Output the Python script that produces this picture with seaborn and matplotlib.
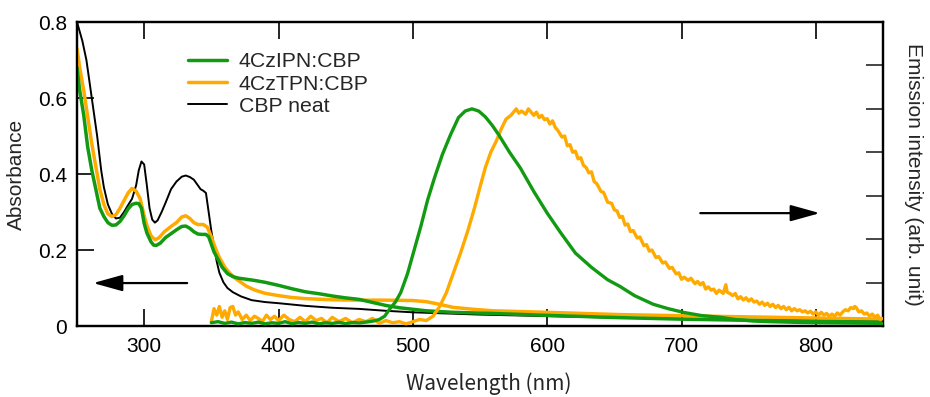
import numpy as np
import pandas as pd
import matplotlib
matplotlib.use("Agg")
import matplotlib.pyplot as plt
from matplotlib.patches import ArrowStyle
import seaborn as sns

# ---------------- data ----------------
# Absorbance (left axis)
cbp_wl = [250, 254, 257, 261, 265, 268, 270, 273, 276, 279, 282, 285, 288, 291, 294, 296, 298, 300,
          302, 304, 306, 308, 310, 313, 316, 320, 324, 328, 331, 334, 337, 340, 342, 344, 346, 348,
          350, 352, 354, 356, 359, 362, 366, 372, 380, 390, 400, 420, 440, 460, 480, 500, 550, 600,
          650, 700, 750, 800, 850]
cbp_abs = [0.80, 0.75, 0.70, 0.60, 0.50, 0.41, 0.365, 0.32, 0.295, 0.283, 0.285, 0.30, 0.318, 0.335,
           0.37, 0.41, 0.433, 0.425, 0.37, 0.31, 0.28, 0.272, 0.278, 0.30, 0.325, 0.36, 0.38, 0.393,
           0.396, 0.392, 0.385, 0.37, 0.36, 0.356, 0.35, 0.30, 0.25, 0.21, 0.17, 0.14, 0.115, 0.10,
           0.089, 0.078, 0.068, 0.063, 0.06, 0.053, 0.048, 0.045, 0.040, 0.036, 0.030, 0.026, 0.022,
           0.019, 0.016, 0.014, 0.012]

ipn_wl = [250, 252, 255, 258, 261, 264, 267, 270, 273, 276, 279, 282, 285, 288, 291, 294, 296, 298,
          300, 302, 305, 307, 309, 312, 316, 320, 324, 328, 331, 334, 337, 340, 343, 346, 348, 350,
          352, 355, 358, 362, 366, 370, 376, 382, 390, 400, 410, 420, 430, 440, 450, 460, 470, 480,
          490, 500, 510, 530, 560, 600, 654, 700, 750, 800, 850]
ipn_abs = [0.68, 0.62, 0.555, 0.47, 0.41, 0.36, 0.31, 0.288, 0.272, 0.265, 0.266, 0.275, 0.29, 0.308,
           0.32, 0.323, 0.322, 0.31, 0.27, 0.245, 0.222, 0.213, 0.212, 0.218, 0.233, 0.243, 0.253,
           0.262, 0.263, 0.257, 0.248, 0.242, 0.241, 0.241, 0.235, 0.215, 0.195, 0.175, 0.155, 0.138,
           0.13, 0.126, 0.123, 0.12, 0.115, 0.107, 0.098, 0.09, 0.085, 0.079, 0.074, 0.07, 0.062,
           0.054, 0.048, 0.044, 0.04, 0.036, 0.033, 0.028, 0.022, 0.018, 0.015, 0.012, 0.01]

tpn_wl = [250, 252, 255, 258, 261, 264, 267, 270, 273, 276, 279, 282, 285, 288, 291, 294, 297, 300,
          302, 305, 308, 311, 315, 320, 324, 328, 331, 334, 337, 340, 344, 347, 350, 353, 356, 360,
          364, 368, 372, 376, 382, 390, 400, 410, 420, 440, 460, 480, 500, 510, 520, 530, 545, 560,
          600, 654, 700, 750, 800, 850]
tpn_abs = [0.73, 0.68, 0.62, 0.55, 0.48, 0.42, 0.36, 0.32, 0.295, 0.288, 0.293, 0.31, 0.33, 0.35,
           0.362, 0.355, 0.335, 0.29, 0.265, 0.238, 0.227, 0.232, 0.248, 0.262, 0.272, 0.287, 0.29,
           0.283, 0.272, 0.267, 0.267, 0.26, 0.235, 0.205, 0.18, 0.155, 0.138, 0.125, 0.115, 0.105,
           0.095, 0.086, 0.08, 0.075, 0.072, 0.069, 0.068, 0.068, 0.067, 0.064, 0.057, 0.049, 0.044,
           0.04, 0.036, 0.03, 0.027, 0.024, 0.021, 0.018]

# Emission (right axis, normalised)
ipn_pl_wl = [350, 355, 360, 365, 370, 375, 380, 385, 390, 395, 400, 405, 410, 415, 420, 425, 430,
             435, 440, 445, 450, 455, 460, 465, 470, 475, 479, 483, 487, 491, 496, 501, 506, 511,
             516, 522, 528, 534, 539, 544, 549, 554, 559, 564, 572, 580, 590, 600, 610, 621, 633,
             645, 654, 665, 679, 690, 702, 715, 729, 740, 753, 765, 778, 790, 800, 815, 830, 850]
ipn_pl = [0.015, 0.02, 0.012, 0.018, 0.01, 0.016, 0.012, 0.018, 0.01, 0.015, 0.012, 0.02, 0.01,
          0.016, 0.012, 0.018, 0.01, 0.015, 0.012, 0.017, 0.011, 0.016, 0.014, 0.018, 0.022, 0.03,
          0.045, 0.08, 0.11, 0.154, 0.24, 0.35, 0.46, 0.58, 0.68, 0.79, 0.88, 0.96, 0.99, 1.0, 0.99,
          0.963, 0.925, 0.88, 0.80, 0.728, 0.62, 0.52, 0.43, 0.336, 0.27, 0.213, 0.183, 0.14, 0.10,
          0.08, 0.062, 0.048, 0.04, 0.03, 0.023, 0.02, 0.018, 0.016, 0.015, 0.014, 0.013, 0.012]

tpn_pl_wl = [350, 352, 354, 356, 358, 360, 362, 364, 366, 368, 370, 373, 376, 379, 382, 385, 388,
             391, 394, 397, 400, 404, 408, 412, 416, 420, 424, 428, 432, 436, 440, 445, 450, 455,
             460, 465, 470, 475, 480, 485, 490, 495, 500, 505, 510, 515, 520, 525, 530, 535.5, 541,
             546, 550, 554, 558, 562, 566, 569.4, 573, 577, 579, 581, 584, 586, 588, 590, 592, 594,
             596, 598, 600, 602, 604, 606, 608, 611, 613, 615, 617, 619, 621, 623, 625, 627, 629,
             631, 633, 635, 637, 640, 642, 645, 648, 650, 652, 654, 656, 658, 660, 662, 664, 667,
             669, 672, 674, 676, 678, 681, 683, 686, 688, 691, 693, 696, 698, 700, 702, 705, 707,
             710, 712, 714, 716, 718, 720, 722, 724, 726, 728, 731, 733, 734, 736, 738, 740, 742,
             744, 746, 748, 750, 752, 754, 756, 758, 760, 762, 764, 766, 768, 770, 772, 774, 776,
             778, 780, 782, 784, 786, 788, 790, 792, 794, 796, 798, 800, 802, 804, 806, 808, 810,
             812, 814, 816, 818, 820, 822, 824, 826, 828, 829, 830, 832, 834, 836, 838, 840, 842,
             844, 846, 848, 850]
tpn_pl = [0.02, 0.08, 0.05, 0.09, 0.04, 0.07, 0.03, 0.085, 0.09, 0.05, 0.065, 0.03, 0.05, 0.025,
          0.045, 0.035, 0.02, 0.05, 0.03, 0.045, 0.025, 0.05, 0.03, 0.02, 0.04, 0.02, 0.045, 0.025,
          0.035, 0.015, 0.04, 0.02, 0.035, 0.015, 0.03, 0.02, 0.035, 0.012, 0.025, 0.015, 0.02,
          0.01, 0.02, 0.03, 0.025, 0.045, 0.09, 0.154, 0.24, 0.336, 0.44, 0.546, 0.64, 0.73, 0.80,
          0.85, 0.91, 0.953, 0.97, 1.0, 0.98, 0.99, 0.975, 1.0, 0.985, 0.97, 0.985, 0.96, 0.97,
          0.95, 0.955, 0.93, 0.945, 0.915, 0.9, 0.87, 0.875, 0.83, 0.835, 0.80, 0.805, 0.77,
          0.775, 0.74, 0.73, 0.705, 0.71, 0.665, 0.655, 0.62, 0.615, 0.57, 0.565, 0.535, 0.53,
          0.5, 0.505, 0.465, 0.47, 0.435, 0.44, 0.405, 0.41, 0.37, 0.375, 0.345, 0.35, 0.315,
          0.32, 0.29, 0.295, 0.265, 0.27, 0.24, 0.245, 0.215, 0.225, 0.21, 0.22, 0.195, 0.205,
          0.19, 0.2, 0.17, 0.18, 0.165, 0.17, 0.15, 0.165, 0.15, 0.19, 0.155, 0.15, 0.14, 0.15,
          0.125, 0.135, 0.12, 0.13, 0.115, 0.125, 0.11, 0.115, 0.1, 0.11, 0.095, 0.105, 0.09,
          0.1, 0.085, 0.095, 0.08, 0.09, 0.075, 0.086, 0.07, 0.08, 0.07, 0.075, 0.065, 0.07,
          0.06, 0.068, 0.055, 0.065, 0.05, 0.063, 0.05, 0.058, 0.045, 0.055, 0.045, 0.06, 0.05,
          0.065, 0.075, 0.07, 0.085, 0.08, 0.09, 0.085, 0.065, 0.07, 0.055, 0.06, 0.045, 0.055,
          0.04, 0.05, 0.03, 0.035]

labels = ["4CzIPN:CBP", "4CzTPN:CBP", "CBP neat"]
x_ticks = [300, 400, 500, 600, 700, 800]
y_ticks = [0, 0.2, 0.4, 0.6, 0.8]
y_ticklabels = ["0", "0.2", "0.4", "0.6", "0.8"]

GREEN = "#129a12"
ORANGE = "#ffaa00"
BLACK = "#000000"

# ---------------- style ----------------
sns.set_theme(style="ticks")
plt.rcParams["font.family"] = ["Liberation Sans", "DejaVu Sans"]

fig = plt.figure(figsize=(9.3, 3.97), dpi=100)
ax = fig.add_axes([77 / 930, 71 / 397, 806 / 930, 304 / 397])

abs_df = pd.concat([
    pd.DataFrame({"wl": ipn_wl, "val": ipn_abs, "s": labels[0]}),
    pd.DataFrame({"wl": tpn_wl, "val": tpn_abs, "s": labels[1]}),
    pd.DataFrame({"wl": cbp_wl, "val": cbp_abs, "s": labels[2]}),
])

sns.lineplot(data=abs_df[abs_df.s == labels[2]], x="wl", y="val", ax=ax, color=BLACK, lw=1.4,
             label=labels[2], zorder=2)
sns.lineplot(data=abs_df[abs_df.s == labels[1]], x="wl", y="val", ax=ax, color=ORANGE, lw=2.5,
             label=labels[1], zorder=3)
sns.lineplot(data=abs_df[abs_df.s == labels[0]], x="wl", y="val", ax=ax, color=GREEN, lw=2.5,
             label=labels[0], zorder=4)

ax2 = ax.twinx()
sns.lineplot(x=tpn_pl_wl, y=tpn_pl, ax=ax2, color=ORANGE, lw=2.4, legend=False, zorder=3)
sns.lineplot(x=ipn_pl_wl, y=ipn_pl, ax=ax2, color=GREEN, lw=2.4, legend=False, zorder=4)

ax.set_xlim(250, 850)
ax.set_ylim(0, 0.8)
ax2.set_ylim(0, 1.4)
ax.set_xticks(x_ticks)
ax.set_yticks(y_ticks)
ax.set_yticklabels(y_ticklabels)
ax2.set_yticks(np.arange(0, 1.41, 0.2))
ax2.set_yticklabels([])

for a in (ax, ax2):
    for sp in a.spines.values():
        sp.set_visible(True)
        sp.set_linewidth(1.6)
        sp.set_color("black")

ax.tick_params(axis="both", direction="in", length=12, width=1.2, labelsize=15, colors="black",
               top=True, right=False, pad=7)
ax.tick_params(axis="x", pad=8)
ax2.tick_params(axis="y", direction="in", length=12, width=1.2, right=True, left=False)

ax.set_xlabel("Wavelength (nm)", fontsize=15, family=["Noto Sans CJK JP", "DejaVu Sans"],
              labelpad=12)
ax.xaxis.label.set_x(0.5106)
ax.set_ylabel("Absorbance", fontsize=15, labelpad=9)
ax2.set_ylabel("Emission intensity (arb. unit)", fontsize=15, rotation=270, labelpad=25)

handles, labs = ax.get_legend_handles_labels()
order = [labs.index(l) for l in labels]
leg = ax.legend([handles[i] for i in order], [labs[i] for i in order],
                loc="upper left", bbox_to_anchor=(0.1377, 0.90), frameon=False, fontsize=15.3,
                handlelength=1.85, handletextpad=0.55, labelspacing=0.15, borderpad=0,
                borderaxespad=0)

arrow = ArrowStyle("-|>", head_length=0.9, head_width=0.25)
ax.annotate("", xy=(262, 0.113), xytext=(332, 0.113),
            arrowprops=dict(arrowstyle=arrow, color="black", lw=1.6, mutation_scale=20,
                            shrinkA=0, shrinkB=0))
ax.annotate("", xy=(803, 0.297), xytext=(714, 0.297),
            arrowprops=dict(arrowstyle=arrow, color="black", lw=1.6, mutation_scale=20,
                            shrinkA=0, shrinkB=0))

fig.savefig("out.png", dpi=100)
